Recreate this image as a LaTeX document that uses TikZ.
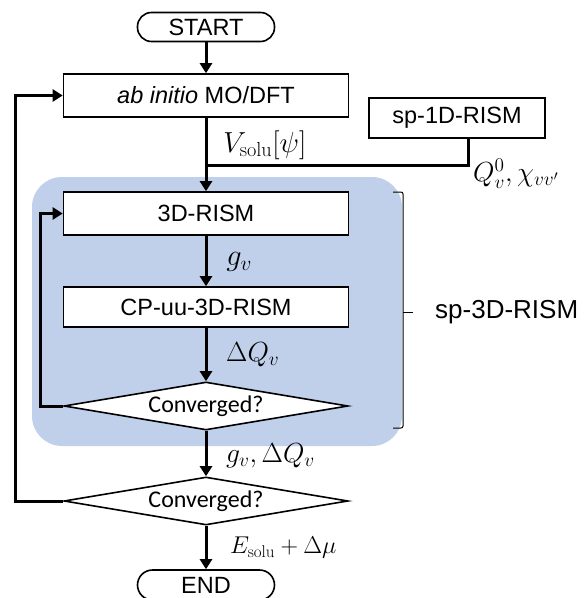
\RequirePackage{fix-cm}
\documentclass[tikz,border=0pt]{standalone}
\usepackage{fontspec}
\newfontfamily\arial{Liberation Sans}
\newfontfamily\calibri{Carlito}
\usetikzlibrary{shapes.geometric,arrows.meta}
\definecolor{bluebg}{RGB}{192,208,234}
\tikzset{
  box/.style={draw, line width=1.6pt, fill=white, minimum width=285, minimum height=43, inner sep=0pt, font=\arial\fontsize{23.5}{26}\selectfont},
  pill/.style={draw, line width=1.6pt, fill=white, rounded corners=14pt, minimum width=137, minimum height=29, inner sep=0pt, font=\arial\fontsize{23.5}{26}\selectfont},
  decision/.style={draw, diamond, aspect=5.9, line width=1.6pt, fill=white, minimum width=284, minimum height=48, inner sep=0pt, font=\calibri\fontsize{24}{26}\selectfont},
  flow/.style={line width=3pt, -{Triangle[length=10pt,width=12pt]}},
  plain/.style={line width=3pt},
  lab/.style={anchor=west, inner sep=0pt, scale=1.2, font=\fontsize{23}{26}\selectfont},
}
\begin{document}
\begin{tikzpicture}[x=1pt,y=-1pt]
\useasboundingbox (0,0) rectangle (584,598);
\fill[bluebg, rounded corners=30pt] (32,177) rectangle (402,446);

\node[pill] (start) at (206,27) {START};
\node[box] (abinitio) at (206,95.5) {\textit{ab initio} MO/DFT};
\node[box, minimum width=176, minimum height=40] (sp1d) at (457,118) {sp-1D-RISM};
\node[box] (rism3d) at (206,213.5) {3D-RISM};
\node[box, minimum height=40] (cpuu) at (206,307) {CP-uu-3D-RISM};
\node[decision] (conv1) at (206,406) {Converged?};
\node[decision] (conv2) at (206,501) {Converged?};
\node[pill, minimum height=30, rounded corners=15pt] (end) at (206,585) {END};

\coordinate (j) at (206,165);
\coordinate (k) at (468,165);
\coordinate (loopin) at (40,0);
\coordinate (loopout) at (15,0);

\draw[flow] (start) -- (abinitio);
\draw[flow] (abinitio) -- (rism3d);
\draw[plain] (k |- sp1d.south) -- (k) -- (j);
\draw[flow] (rism3d) -- (cpuu);
\draw[flow] (cpuu) -- (conv1);
\draw[flow] (conv1) -- (conv2);
\draw[flow] (conv2) -- (end);
\draw[flow] (conv1.west) -- (conv1.west -| loopin) |- (rism3d.west);
\draw[flow] (conv2.west) -- (conv2.west -| loopout) |- (abinitio.west);

\node[lab, scale=1.05] (l1) at (223,145) {$V_{\mathrm{solu}}[\psi]$};
\node[lab] (l2) at (473,174) {$Q_v^0,\chi_{vv'}$};
\node[lab, scale=1.1] (l3) at (226,262) {$g_v$};
\node[lab] (l4) at (226,355) {$\Delta Q_v$};
\node[lab] (l5) at (226,456) {$g_v,\Delta Q_v$};
\node[lab, scale=0.88] (l6) at (230,548) {$E_{\mathrm{solu}}+\Delta\mu$};

\draw[line width=1pt, rounded corners=2pt] (393,192) -- (403,192) -- (403,428) -- (393,428);
\draw[line width=1pt] (403,312) -- (413,312);
\node[anchor=west, inner sep=0pt, font=\arial\fontsize{26}{28}\selectfont] (sp3d) at (435,312) {sp-3D-RISM};
\end{tikzpicture}
\end{document}
